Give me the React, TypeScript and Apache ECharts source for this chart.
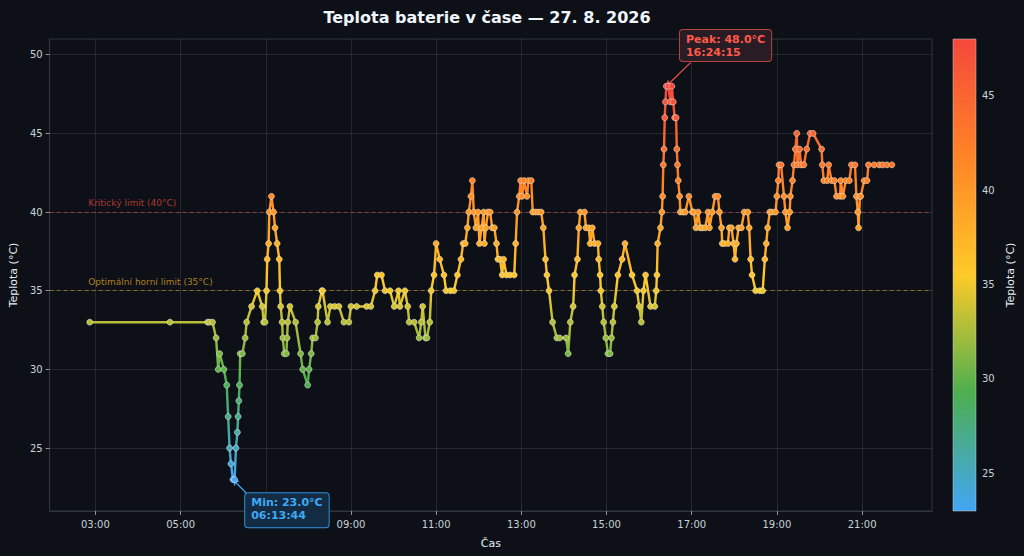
import { useEffect, useRef } from "react";
import * as echarts from "echarts";

// naměřené teploty (čas, °C)
const times = [
  "02:52", "04:45", "05:38", "05:41", "05:45", "05:50", "05:53", "05:55", "06:01", "06:05",
  "06:07", "06:09", "06:11", "06:13:44", "06:16", "06:18", "06:20", "06:21", "06:22", "06:23",
  "06:24", "06:27", "06:31", "06:33", "06:40", "06:48", "06:55", "06:57", "06:59", "07:01",
  "07:02", "07:04", "07:05", "07:08", "07:11", "07:13", "07:16", "07:19", "07:20", "07:21",
  "07:23", "07:24", "07:26", "07:29", "07:30", "07:31", "07:34", "07:42", "07:49", "07:52",
  "07:59", "08:01", "08:04", "08:06", "08:10", "08:13", "08:14", "08:19", "08:20", "08:27",
  "08:31", "08:37", "08:43", "08:50", "08:57", "09:00", "09:08", "09:22", "09:28", "09:34",
  "09:37", "09:43", "09:48", "09:55", "10:01", "10:07", "10:09", "10:16", "10:20", "10:22",
  "10:29", "10:36", "10:39", "10:41", "10:45", "10:47", "10:51", "10:53", "10:57", "11:00",
  "11:05", "11:11", "11:14", "11:20", "11:25", "11:30", "11:35", "11:38", "11:41", "11:44",
  "11:46", "11:49", "11:51", "11:53", "11:56", "11:59", "12:01", "12:04", "12:07", "12:08",
  "12:10", "12:13", "12:16", "12:19", "12:22", "12:25", "12:27", "12:30", "12:33", "12:35",
  "12:39", "12:44", "12:50", "12:52", "12:54", "12:57", "12:59", "13:01", "13:04", "13:08",
  "13:10", "13:14", "13:16", "13:20", "13:24", "13:28", "13:31", "13:34", "13:36", "13:39",
  "13:44", "13:50", "13:54", "14:03", "14:06", "14:09", "14:13", "14:15", "14:19", "14:21",
  "14:23", "14:29", "14:31", "14:35", "14:37", "14:40", "14:43", "14:48", "14:49", "14:51",
  "14:52", "14:54", "14:56", "14:59", "15:02", "15:05", "15:07", "15:09", "15:11", "15:16",
  "15:22", "15:26", "15:36", "15:43", "15:46", "15:49", "15:52", "15:55", "16:02", "16:08",
  "16:10", "16:11", "16:12", "16:16", "16:18", "16:19", "16:20", "16:21", "16:22", "16:23",
  "16:24:15", "16:27", "16:30", "16:32", "16:34", "16:36", "16:38", "16:39", "16:40", "16:41",
  "16:43", "16:44", "16:48", "16:51", "16:56", "17:01", "17:03", "17:06", "17:09", "17:12",
  "17:15", "17:19", "17:23", "17:25", "17:29", "17:33", "17:37", "17:39", "17:42", "17:43",
  "17:46", "17:51", "17:53", "17:56", "17:59", "18:01", "18:03", "18:06", "18:10", "18:14",
  "18:19", "18:21", "18:23", "18:25", "18:30", "18:36", "18:40", "18:43", "18:45", "18:47",
  "18:50", "18:53", "18:58", "19:00", "19:02", "19:03", "19:06", "19:10", "19:12", "19:15",
  "19:18", "19:19", "19:22", "19:24", "19:26", "19:28", "19:29", "19:32", "19:34", "19:38",
  "19:42", "19:47", "19:51", "20:03", "20:04", "20:06", "20:11", "20:13", "20:17", "20:21",
  "20:24", "20:29", "20:30", "20:33", "20:37", "20:42", "20:45", "20:50", "20:52", "20:54",
  "20:55", "20:57", "20:58", "21:03", "21:07", "21:09", "21:17", "21:24", "21:29", "21:35",
  "21:42",
];

const temps = [
  33, 33, 33, 33, 33, 32, 30, 31, 30, 29,
  27, 25, 24, 23, 23, 25, 26, 27, 28, 29,
  31, 31, 32, 33, 34, 35, 34, 33, 33, 35,
  37, 38, 40, 41, 40, 39, 38, 37, 35, 34,
  33, 32, 31, 31, 32, 33, 34, 33, 31, 30,
  29, 30, 31, 32, 32, 33, 34, 35, 35, 33,
  34, 34, 34, 33, 33, 34, 34, 34, 34, 35,
  36, 36, 35, 35, 34, 35, 34, 35, 34, 33,
  33, 32, 33, 34, 32, 32, 33, 35, 36, 38,
  37, 36, 35, 35, 35, 36, 37, 38, 38, 39,
  40, 41, 42, 40, 39, 40, 38, 39, 40, 38,
  39, 40, 40, 39, 39, 38, 37, 37, 36, 37,
  36, 36, 36, 38, 40, 41, 42, 41, 42, 41,
  42, 42, 40, 40, 40, 40, 39, 37, 36, 35,
  33, 32, 32, 32, 31, 33, 34, 36, 37, 39,
  40, 40, 39, 39, 38, 39, 38, 38, 37, 36,
  35, 34, 33, 32, 31, 31, 32, 33, 34, 36,
  37, 38, 36, 35, 34, 33, 35, 36, 34, 34,
  35, 36, 38, 39, 40, 41, 43, 44, 46, 47,
  48, 48, 47, 48, 47, 46, 46, 44, 43, 42,
  41, 40, 40, 40, 41, 40, 40, 39, 40, 39,
  39, 39, 40, 39, 40, 41, 41, 40, 39, 38,
  38, 38, 39, 39, 38, 37, 38, 39, 39, 40,
  40, 39, 37, 36, 35, 35, 35, 37, 38, 39,
  40, 40, 40, 41, 42, 43, 43, 41, 40, 39,
  40, 41, 42, 43, 44, 45, 43, 44, 43, 43,
  44, 45, 45, 44, 43, 42, 42, 43, 42, 42,
  41, 41, 42, 41, 42, 42, 43, 43, 41, 40,
  39, 41, 41, 42, 42, 43, 43, 43, 43, 43,
  43,
];

const xTicks = ["03:00", "05:00", "07:00", "09:00", "11:00", "13:00", "15:00", "17:00", "19:00", "21:00"];
const yTicks = [25, 30, 35, 40, 45, 50];
const barTicks = [25, 30, 35, 40, 45];
const yMin = 21;
const yMax = 51;

const limitValues = [40, 35];
const limitLabels = ["Kritický limit (40°C)", "Optimální horní limit (35°C)"];
const limitColors = ["rgba(248, 81, 73, 0.5)", "rgba(210, 153, 34, 0.6)"];
const limitTextColors = ["rgba(215, 65, 58, 0.8)", "rgba(205, 150, 35, 0.85)"];

// barevná škála: modrá -> zelená -> žlutá -> oranžová -> červená
const colorStops = ["#42a5f5", "#4caf50", "#ffca28", "#ff8426", "#f4483c"];

const toMin = (t: string) => {
  const [h, m, s = "0"] = t.split(":");
  return Number(h) * 60 + Number(m) + Number(s) / 60;
};
const pad = (n: number) => String(n).padStart(2, "0");
const fmt = (v: number) => {
  const h = Math.floor(v / 60);
  const m = Math.round(v - h * 60);
  return `${pad(h)}:${pad(m)}`;
};
const fullTime = (t: string) => (t.length === 5 ? t + ":00" : t);

const App = () => {
  const chartRef = useRef<HTMLDivElement>(null);

  useEffect(() => {
    if (!chartRef.current) return;
    const chart = echarts.init(chartRef.current, null, { renderer: "svg" });

    const xs = times.map(toMin);
    const points = xs.map((x, i) => [x, temps[i]]);
    const span = xs[xs.length - 1] - xs[0];
    const xMin = xs[0] - span * 0.05;
    const xMax = xs[xs.length - 1] + span * 0.05;

    const vMin = Math.min(...temps);
    const vMax = Math.max(...temps);
    const iMin = temps.indexOf(vMin);
    const iMax = temps.indexOf(vMax);
    const minEnd = [xs[iMin] + 25, vMin - 1.15];
    const peakEnd = [xs[iMax] + 34, vMax + 1.5];

    const textColor = "#c9d1d9";
    const font = "DejaVu Sans";

    chart.setOption({
      animation: false,
      backgroundColor: "#0d1117",
      textStyle: { fontFamily: font },
      title: {
        text: "Teplota baterie v čase — 27. 8. 2026",
        left: 482,
        textAlign: "center",
        top: 4,
        textStyle: { color: "#f0f6fc", fontSize: 16, fontWeight: "bold", fontFamily: font },
      },
      grid: [
        { left: 47, right: 92, top: 39, bottom: 45, show: true, borderColor: "#30363d", borderWidth: 1, backgroundColor: "#0d1117" },
        { left: 953, top: 39, width: 23, height: 472 },
      ],
      visualMap: {
        type: "continuous",
        show: false,
        seriesIndex: 0,
        dimension: 1,
        min: vMin,
        max: vMax,
        inRange: { color: colorStops },
      },
      xAxis: [
        {
          type: "value",
          gridIndex: 0,
          min: xMin,
          max: xMax,
          name: "Čas",
          nameLocation: "middle",
          nameGap: 27,
          nameTextStyle: { color: "#e6edf3", fontSize: 11, fontFamily: font },
          axisLine: { show: true, lineStyle: { color: "#30363d" } },
          axisTick: { show: true, customValues: xTicks.map(toMin), length: 4, lineStyle: { color: "#8b949e" } },
          axisLabel: { customValues: xTicks.map(toMin), formatter: fmt, color: textColor, fontSize: 10, margin: 8 },
          splitLine: { show: true, lineStyle: { color: "rgba(139, 148, 158, 0.18)", width: 1 } },
        },
        { type: "value", gridIndex: 1, min: 0, max: 1, show: false },
      ],
      yAxis: [
        {
          type: "value",
          gridIndex: 0,
          min: yMin,
          max: yMax,
          name: "Teplota (°C)",
          nameLocation: "middle",
          nameRotate: 90,
          nameGap: 29,
          nameTextStyle: { color: "#e6edf3", fontSize: 11, fontFamily: font },
          axisLine: { show: true, lineStyle: { color: "#30363d" } },
          axisTick: { show: true, customValues: yTicks, length: 4, lineStyle: { color: "#8b949e" } },
          axisLabel: { customValues: yTicks, color: textColor, fontSize: 10, margin: 7 },
          splitLine: { show: true, lineStyle: { color: "rgba(139, 148, 158, 0.18)", width: 1 } },
        },
        {
          type: "value",
          gridIndex: 1,
          min: vMin,
          max: vMax,
          position: "right",
          name: "Teplota (°C)",
          nameLocation: "middle",
          nameRotate: 90,
          nameGap: 29,
          nameTextStyle: { color: "#e6edf3", fontSize: 11, fontFamily: font },
          axisLine: { show: false },
          axisTick: { show: true, customValues: barTicks, length: 3, lineStyle: { color: textColor } },
          axisLabel: { customValues: barTicks, color: textColor, fontSize: 10, margin: 6 },
          splitLine: { show: false },
        },
      ],
      series: [
        {
          type: "line",
          data: points,
          symbol: "circle",
          symbolSize: 6,
          lineStyle: { width: 2.4 },
          itemStyle: { borderColor: "rgba(255, 255, 255, 0.55)", borderWidth: 0.8 },
          z: 5,
        },
        {
          type: "line",
          data: [],
          silent: true,
          markLine: {
            symbol: ["none", "none"],
            silent: true,
            label: { show: false },
            data: limitValues.map((v, i) => ({
              yAxis: v,
              lineStyle: { color: limitColors[i], type: [4, 3], width: 1 },
            })),
          },
          markPoint: {
            symbol: "circle",
            symbolSize: 1,
            silent: true,
            itemStyle: { color: "transparent" },
            data: limitValues.map((v, i) => ({
              coord: [xs[0], v],
              label: {
                show: true,
                position: [-1, -13],
                formatter: limitLabels[i],
                color: limitTextColors[i],
                fontSize: 9,
                fontFamily: font,
              },
            })),
          },
        },
        {
          type: "line",
          data: [],
          silent: true,
          z: 10,
          markLine: {
            silent: true,
            label: { show: false },
            data: [
              [
                { coord: [xs[iMin], vMin], symbol: "arrow", symbolSize: 6, lineStyle: { color: "#3fa9f5", width: 1.2, type: "solid" } },
                { coord: minEnd, symbol: "none" },
              ],
              [
                { coord: [xs[iMax], vMax], symbol: "arrow", symbolSize: 6, lineStyle: { color: "#f0524a", width: 1.2, type: "solid" } },
                { coord: peakEnd, symbol: "none" },
              ],
            ],
          },
          markPoint: {
            symbol: "circle",
            symbolSize: 1,
            silent: true,
            z: 20,
            itemStyle: { color: "transparent" },
            data: [
              {
                coord: minEnd,
                label: {
                  show: true,
                  position: [-5, -4],
                  formatter: `Min: ${vMin.toFixed(1)}°C\n${fullTime(times[iMin])}`,
                  color: "#3fa9f5",
                  fontSize: 11,
                  fontWeight: "bold",
                  lineHeight: 13,
                  fontFamily: font,
                  backgroundColor: "#142c43",
                  borderColor: "#2f8fdc",
                  borderWidth: 1,
                  borderRadius: 3,
                  padding: [3, 6, 5, 6],
                },
              },
              {
                coord: peakEnd,
                label: {
                  show: true,
                  position: [-10, -32],
                  formatter: `Peak: ${vMax.toFixed(1)}°C\n${fullTime(times[iMax])}`,
                  color: "#ff5a4a",
                  fontSize: 11,
                  fontWeight: "bold",
                  lineHeight: 13,
                  fontFamily: font,
                  backgroundColor: "#2a1c24",
                  borderColor: "#b8433d",
                  borderWidth: 1,
                  borderRadius: 3,
                  padding: [3, 6, 2, 6],
                },
              },
            ],
          },
        },
        {
          type: "custom",
          xAxisIndex: 1,
          yAxisIndex: 1,
          silent: true,
          data: [[vMin, vMax]],
          renderItem: (_params: any, api: any) => {
            const lo = api.value(0);
            const hi = api.value(1);
            const p0 = api.coord([0, hi]);
            const p1 = api.coord([1, lo]);
            return {
              type: "rect",
              shape: { x: p0[0], y: p0[1], width: p1[0] - p0[0], height: p1[1] - p0[1] },
              style: {
                fill: new echarts.graphic.LinearGradient(
                  0, 1, 0, 0,
                  colorStops.map((c, i) => ({ offset: i / (colorStops.length - 1), color: c }))
                ),
                stroke: "rgba(201, 209, 217, 0.6)",
                lineWidth: 0.8,
              },
            };
          },
        },
      ],
    });

    return () => {
      chart.dispose();
    };
  }, []);

  return (
    <div
      ref={chartRef}
      style={{ position: "absolute", left: 0, top: 0, width: "1024px", height: "556px" }}
    ></div>
  );
};

export default App;
